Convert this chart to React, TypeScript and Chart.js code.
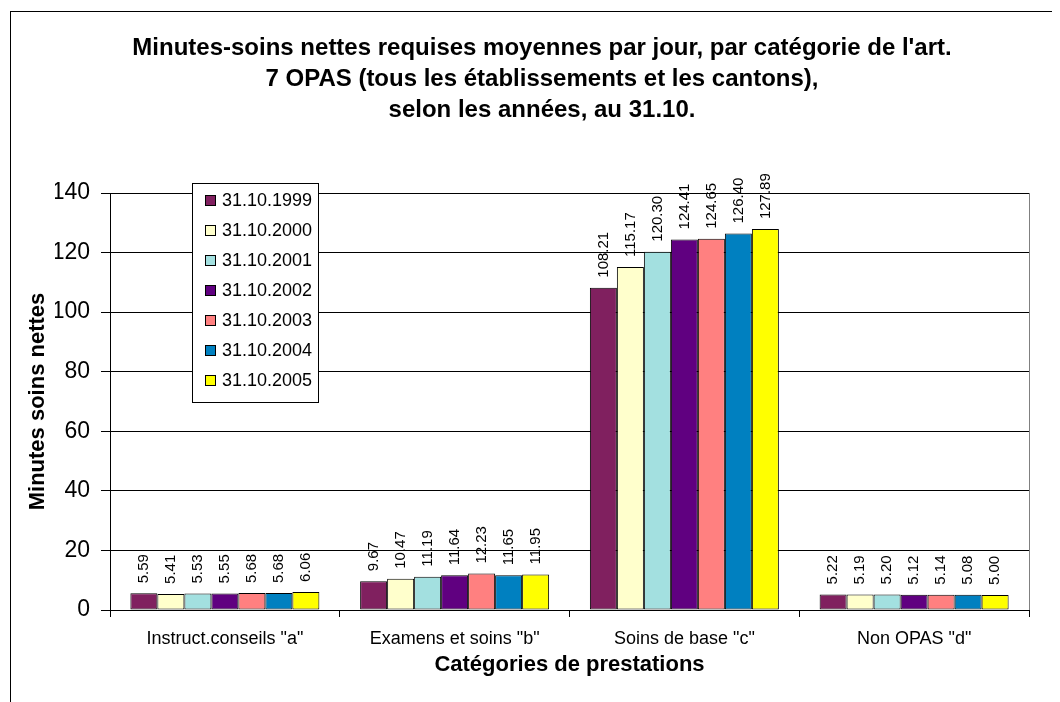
import React, { useEffect, useRef } from "react";
import { Chart, registerables } from "chart.js";

Chart.register(...registerables);

const categories = ['Instruct.conseils "a"', 'Examens et soins "b"', 'Soins de base "c"', 'Non OPAS "d"'];
const seriesLabels = ["31.10.1999", "31.10.2000", "31.10.2001", "31.10.2002", "31.10.2003", "31.10.2004", "31.10.2005"];
const seriesColors = ["#80205F", "#FFFFCC", "#A3E0E0", "#600080", "#FF8080", "#0080C0", "#FFFF00"];
const v1999 = [5.59, 9.67, 108.21, 5.22];
const v2000 = [5.41, 10.47, 115.17, 5.19];
const v2001 = [5.53, 11.19, 120.3, 5.2];
const v2002 = [5.55, 11.64, 124.41, 5.12];
const v2003 = [5.68, 12.23, 124.65, 5.14];
const v2004 = [5.68, 11.65, 126.4, 5.08];
const v2005 = [6.06, 11.95, 127.89, 5.0];
const seriesValues = [v1999, v2000, v2001, v2002, v2003, v2004, v2005];
const yTicks = [0, 20, 40, 60, 80, 100, 120, 140];
const titleLines = [
  "Minutes-soins nettes requises moyennes par jour, par catégorie de l'art.",
  "7 OPAS (tous les établissements et les cantons),",
  "selon les années, au 31.10.",
];
const yTitle = "Minutes soins nettes";
const xTitle = "Catégories de prestations";

const FONT = "'Liberation Sans', Arial, sans-serif";

const frameAndBackground = {
  id: "frameAndBackground",
  beforeDraw(chart: any) {
    const { ctx, width, height } = chart;
    ctx.save();
    ctx.fillStyle = "#ffffff";
    ctx.fillRect(0, 0, width, height);
    ctx.strokeStyle = "#000000";
    ctx.lineWidth = 1;
    ctx.strokeRect(2.5, 3.5, width + 20, height + 20);
    ctx.restore();
  },
  beforeDatasetsDraw(chart: any) {
    const { ctx, chartArea } = chart;
    ctx.save();
    ctx.strokeStyle = "#808080";
    ctx.lineWidth = 1;
    const r = Math.round(chartArea.right) + 0.5;
    ctx.beginPath();
    ctx.moveTo(r, chartArea.top);
    ctx.lineTo(r, chartArea.bottom);
    ctx.stroke();
    ctx.restore();
  },
};

const valueLabels = {
  id: "valueLabels",
  afterDatasetsDraw(chart: any) {
    const { ctx } = chart;
    ctx.save();
    ctx.font = `15px ${FONT}`;
    ctx.fillStyle = "#000000";
    ctx.textAlign = "left";
    ctx.textBaseline = "middle";
    chart.data.datasets.forEach((ds: any, i: number) => {
      const meta = chart.getDatasetMeta(i);
      meta.data.forEach((bar: any, j: number) => {
        const v = ds.data[j] as number;
        ctx.save();
        ctx.translate(bar.x, bar.y - 10);
        ctx.rotate(-Math.PI / 2);
        ctx.fillText(v.toFixed(2), 0, 0);
        ctx.restore();
      });
    });
    ctx.restore();
  },
};

const boxedLegend = {
  id: "boxedLegend",
  afterDraw(chart: any) {
    const { ctx, chartArea } = chart;
    const left = chartArea.left + 82;
    const top = chartArea.top - 10;
    const w = 126;
    const h = 219;
    ctx.save();
    ctx.fillStyle = "#ffffff";
    ctx.fillRect(left, top, w, h);
    ctx.strokeStyle = "#000000";
    ctx.lineWidth = 1;
    ctx.strokeRect(Math.round(left) + 0.5, Math.round(top) + 0.5, w, h);
    ctx.font = `18px ${FONT}`;
    ctx.textBaseline = "middle";
    ctx.textAlign = "left";
    chart.data.datasets.forEach((ds: any, i: number) => {
      const cy = top + 17 + i * 30;
      ctx.fillStyle = ds.backgroundColor;
      ctx.fillRect(Math.round(left) + 13, Math.round(cy) - 5, 10, 10);
      ctx.strokeStyle = "#000000";
      ctx.strokeRect(Math.round(left) + 13.5, Math.round(cy) - 4.5, 10, 10);
      ctx.fillStyle = "#000000";
      ctx.fillText(ds.label, left + 30, cy + 1);
    });
    ctx.restore();
  },
};

export default function App() {
  const canvasRef = useRef<HTMLCanvasElement | null>(null);

  useEffect(() => {
    document.body.style.overflow = "hidden";
    const canvas = canvasRef.current;
    if (!canvas) return;
    const chart = new Chart(canvas, {
      type: "bar",
      data: {
        labels: categories,
        datasets: seriesLabels.map((label, i) => ({
          label,
          data: seriesValues[i],
          backgroundColor: seriesColors[i],
          borderColor: "#000000",
          borderWidth: 1,
          borderSkipped: false,
          categoryPercentage: 0.8226,
          barPercentage: 1,
        })),
      },
      options: {
        responsive: false,
        animation: false,
        devicePixelRatio: 1,
        layout: { padding: { left: 47, right: 47, top: 0, bottom: 23.8 } },
        plugins: {
          legend: { display: false },
          tooltip: { enabled: false },
          title: {
            display: true,
            text: titleLines,
            color: "#000000",
            font: { family: FONT, size: 24, weight: "bold", lineHeight: "31px" },
            padding: { top: 24.5, bottom: 67.5 },
          },
        },
        scales: {
          x: {
            type: "category",
            offset: true,
            afterFit: (scale: any) => {
              scale.height = 68.2;
            },
            grid: {
              offset: true,
              drawOnChartArea: false,
              drawTicks: true,
              tickLength: 7,
              color: "#000000",
            },
            border: { display: true, color: "#000000", width: 1 },
            ticks: {
              color: "#000000",
              padding: 11,
              maxRotation: 0,
              autoSkip: false,
              font: { family: FONT, size: 18 },
            },
            title: {
              display: true,
              text: xTitle,
              color: "#000000",
              font: { family: FONT, size: 22, weight: "bold" },
              padding: { top: 0, bottom: 0 },
            },
          },
          y: {
            min: 0,
            max: 140,
            afterFit: (scale: any) => {
              scale.width = 55;
            },
            afterBuildTicks: (scale: any) => {
              scale.ticks = yTicks.map((v) => ({ value: v }));
            },
            grid: {
              color: "#000000",
              lineWidth: 1,
              drawTicks: true,
              tickLength: 9,
            },
            border: { display: true, color: "#000000", width: 1 },
            ticks: {
              color: "#000000",
              padding: 11,
              font: { family: FONT, size: 23 },
            },
            title: {
              display: true,
              text: yTitle,
              color: "#000000",
              font: { family: FONT, size: 22, weight: "bold" },
              padding: { top: -30.2, bottom: 0 },
            },
          },
        },
      },
      plugins: [frameAndBackground, valueLabels, boxedLegend],
    } as any);
    return () => {
      chart.destroy();
    };
  }, []);

  return (
    <div style={{ width: 1052, height: 694, overflow: "hidden" }}>
      <canvas ref={canvasRef} width={1068} height={694} style={{ display: "block" }} />
    </div>
  );
}
